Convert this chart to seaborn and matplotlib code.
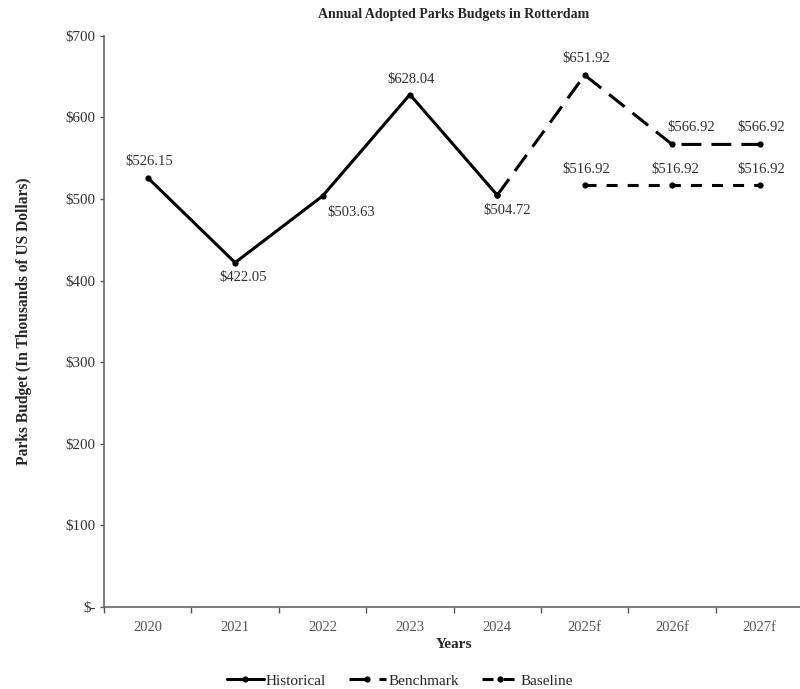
import pandas as pd
import matplotlib.pyplot as plt
import seaborn as sns
from matplotlib.lines import Line2D

# datos
years = ["2020", "2021", "2022", "2023", "2024", "2025f", "2026f", "2027f"]
hist_years = ["2020", "2021", "2022", "2023", "2024"]
hist_vals = [526.15, 422.05, 503.63, 628.04, 504.72]
bench_years = ["2024", "2025f", "2026f", "2027f"]
bench_vals = [504.72, 651.92, 566.92, 566.92]
base_years = ["2025f", "2026f", "2027f"]
base_vals = [516.92, 516.92, 516.92]
y_ticks = [0, 100, 200, 300, 400, 500, 600, 700]


def a_df(yrs, vals):
    return pd.DataFrame({"x": [years.index(y) for y in yrs], "v": vals})


sns.set_theme(style="white")
plt.rcParams["font.family"] = ["Liberation Serif", "DejaVu Serif"]

fig = plt.figure(figsize=(8, 6.89), dpi=100)
ax = fig.add_axes([0.13, 0.119, 0.874, 0.829])

df_h = a_df(hist_years, hist_vals)
df_b = a_df(bench_years, bench_vals)
df_s = a_df(base_years, base_vals)

DASH_B = (6.5, 3.3)
DASH_S = (3.6, 3.3)
estilo = dict(color="black", lw=2.2, marker="o", markersize=4.5, markeredgewidth=0)

sns.lineplot(data=df_b, x="x", y="v", ax=ax, **estilo)
ax.lines[-1].set_dashes(DASH_B)
sns.lineplot(data=df_s, x="x", y="v", ax=ax, **estilo)
ax.lines[-1].set_dashes(DASH_S)
sns.lineplot(data=df_h, x="x", y="v", ax=ax, **estilo)

# etiquetas de datos (desplazamientos en puntos)
tc = "#303030"
fs = 10.5


def etiquetar(df, offs):
    for (x, v), (dx, dy) in zip(df.values, offs):
        ax.annotate(f"${v:.2f}", (x, v), xytext=(dx, dy), textcoords="offset points",
                    ha="center", va="center", fontsize=fs, color=tc)


etiquetar(df_h, [(1, 11.5), (6, -11), (21, -12), (1, 11), (7, -11)])
etiquetar(df_b.iloc[1:], [(1, 12), (14, 12), (1, 12)])
etiquetar(df_s, [(1, 11.5), (2, 11.5), (1, 11.5)])

ax.set_xlim(-0.5, 7.5)
ax.set_ylim(0, 700)
ax.set_xticks(range(len(years)))
ax.set_xticklabels(years)
ax.set_xticks([i + 0.5 for i in range(-1, len(years))], minor=True)
ax.tick_params(axis="x", which="major", length=0, pad=10, labelsize=10.5, labelcolor="#555555")
ax.tick_params(axis="x", which="minor", length=4, width=1, color="#555555", direction="out", bottom=True)
ax.set_yticks(y_ticks)
ax.set_yticklabels(["$-"] + [f"${t}" for t in y_ticks[1:]])
ax.tick_params(axis="y", length=3, width=1, color="#555555", direction="out", left=True,
               labelsize=10.8, labelcolor="#333333", pad=3)

for s in ["top", "right"]:
    ax.spines[s].set_visible(False)
for s in ["left", "bottom"]:
    ax.spines[s].set_color("#666666")
    ax.spines[s].set_linewidth(1.2)

ax.set_xlabel("Years", fontsize=11, fontweight="bold", labelpad=3)
ax.set_ylabel("Parks Budget (In Thousands of US Dollars)", fontsize=11.2, fontweight="bold", labelpad=24)
ax.set_title("Annual Adopted Parks Budgets in Rotterdam", fontsize=10, fontweight="bold", pad=13)

handles = [
    Line2D([], [], **estilo),
    Line2D([], [], dashes=DASH_B, **estilo),
    Line2D([], [], dashes=DASH_S, **estilo),
]
fig.legend(handles, ["Historical", "Benchmark", "Baseline"], loc="center",
           bbox_to_anchor=(0.5, 0.012), ncol=3, frameon=False, fontsize=11,
           handlelength=2.4, handletextpad=0.15, columnspacing=1.5)

plt.savefig("out.png", dpi=100)
